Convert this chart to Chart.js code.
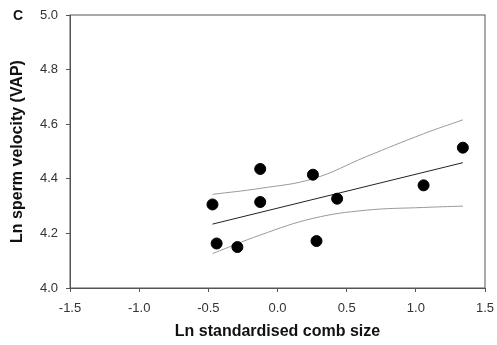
<!DOCTYPE html>
<html lang="en">
<head>
  <meta charset="UTF-8" />
  <title>Comb size vs sperm velocity</title>
  <script src="https://cdn.jsdelivr.net/npm/chart.js"></script>
  <style>
    body, html { margin: 0; background: #fff; }
    #wrap { width: 497px; height: 345px; position: relative; }
  </style>
</head>
<body>
  <div id="wrap"><canvas id="chart" width="497" height="345"></canvas></div>
  <script>
    // observed points (ln comb size, ln VAP)
    const combSize = [-0.47, -0.44, -0.29, -0.125, -0.125, 0.256, 0.282, 0.431, 1.056, 1.34];
    const velocity = [4.306, 4.163, 4.150, 4.436, 4.315, 4.415, 4.172, 4.327, 4.376, 4.514];

    // regression line end points
    const fitX = [-0.47, 1.34];
    const fitY = [4.234, 4.459];

    // confidence band
    const bandX = [-0.47, -0.125, 0.256, 0.641, 1.056, 1.34];
    const upperY = [4.343, 4.365, 4.400, 4.481, 4.565, 4.616];
    const lowerY = [4.126, 4.194, 4.255, 4.285, 4.295, 4.300];

    const xTicks = [-1.5, -1.0, -0.5, 0.0, 0.5, 1.0, 1.5];
    const yTicks = [4.0, 4.2, 4.4, 4.6, 4.8, 5.0];

    const pts = (xs, ys) => xs.map((x, i) => ({ x: x, y: ys[i] }));

    const frame = {
      id: 'frame',
      afterDraw(chart) {
        const { ctx, chartArea: a } = chart;
        ctx.save();
        ctx.strokeStyle = '#555';
        ctx.lineWidth = 1;
        ctx.strokeRect(a.left, a.top, a.right - a.left, a.bottom - a.top);
        ctx.fillStyle = '#111';
        ctx.font = 'bold 14px "Liberation Sans", Arial, sans-serif';
        ctx.textBaseline = 'middle';
        ctx.fillText('C', 13, 16);
        ctx.restore();
      }
    };

    const tickFont = { family: '"Liberation Sans", Arial, sans-serif', size: 13 };
    const titleFont = { family: '"Liberation Sans", Arial, sans-serif', size: 16, weight: 'bold' };

    new Chart(document.getElementById('chart'), {
      type: 'scatter',
      data: {
        datasets: [
          {
            data: pts(combSize, velocity),
            backgroundColor: '#000',
            borderColor: '#000',
            pointRadius: 5.5,
            pointHoverRadius: 5.5
          },
          {
            type: 'line',
            data: pts(fitX, fitY),
            borderColor: '#222',
            borderWidth: 1,
            pointRadius: 0,
            fill: false
          },
          {
            type: 'line',
            data: pts(bandX, upperY),
            borderColor: '#999',
            borderWidth: 1,
            pointRadius: 0,
            tension: 0.4,
            fill: false
          },
          {
            type: 'line',
            data: pts(bandX, lowerY),
            borderColor: '#999',
            borderWidth: 1,
            pointRadius: 0,
            tension: 0.4,
            fill: false
          }
        ]
      },
      options: {
        responsive: false,
        animation: false,
        layout: { padding: { top: 15, right: 12, left: 0, bottom: 0 } },
        plugins: { legend: { display: false }, tooltip: { enabled: false } },
        scales: {
          x: {
            type: 'linear',
            min: -1.5,
            max: 1.5,
            afterBuildTicks: s => { s.ticks = xTicks.map(v => ({ value: v })); },
            afterFit: s => { s.height = 57; s.paddingRight = 0; s.paddingLeft = 0; },
            grid: { drawOnChartArea: false, tickLength: 4, color: '#555' },
            border: { color: '#555' },
            ticks: { color: '#333', font: tickFont, padding: 9, callback: v => v.toFixed(1) },
            title: { display: true, text: 'Ln standardised comb size', color: '#111', font: titleFont, padding: { top: 0, bottom: 4 } }
          },
          y: {
            type: 'linear',
            min: 4.0,
            max: 5.0,
            afterBuildTicks: s => { s.ticks = yTicks.map(v => ({ value: v })); },
            afterFit: s => { s.width = 70; s.paddingTop = 0; s.paddingBottom = 0; },
            grid: { drawOnChartArea: false, tickLength: 4, color: '#555' },
            border: { color: '#555' },
            ticks: { color: '#333', font: tickFont, padding: 8, callback: v => v.toFixed(1) },
            title: { display: true, text: 'Ln sperm velocity (VAP)', color: '#111', font: titleFont, padding: { top: 8, bottom: 0 } }
          }
        }
      },
      plugins: [frame]
    });
  </script>
</body>
</html>
